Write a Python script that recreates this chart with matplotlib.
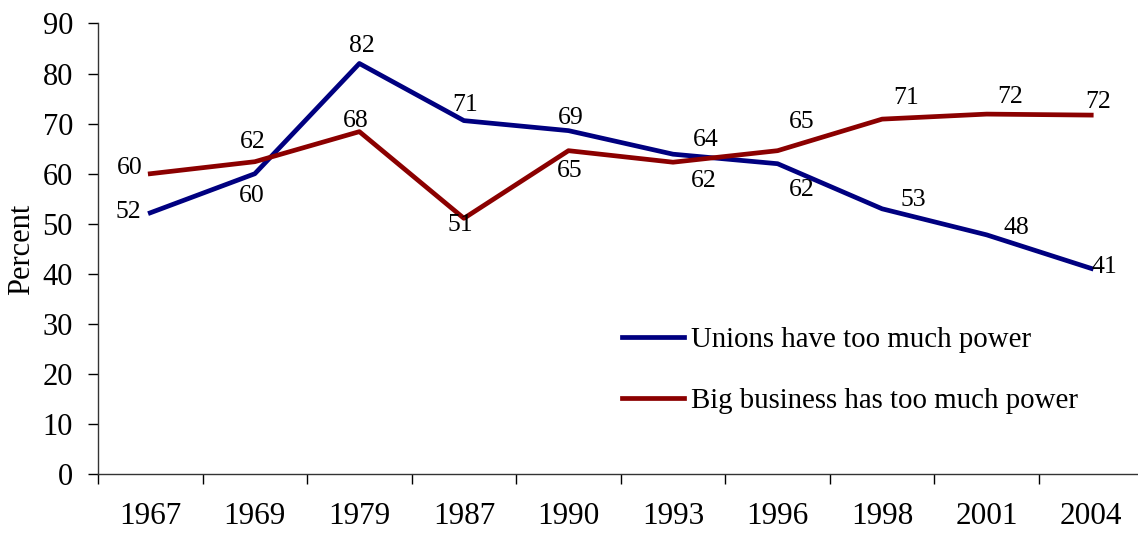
import matplotlib.pyplot as plt
import numpy as np

# Data
years = ['1967', '1969', '1979', '1987', '1990', '1993', '1996', '1998', '2001', '2004']
unions = [52.2, 60.0, 82.0, 70.6, 68.6, 63.9, 62.0, 53.0, 47.8, 41.1]
business = [60.0, 62.4, 68.4, 51.1, 64.6, 62.3, 64.6, 70.9, 71.9, 71.7]

# label offsets from the point, in pixels (dx, dy)
union_offsets = [(-22, 1), (-3, -22), (2, 17), (1, 16), (2, 13), (33, 14),
                 (24, -26), (31, 9), (30, 7), (13, 1)]
business_offsets = [(-21, 6), (-2, 20), (-4, 11), (-4, -7), (1, -20), (31, -19),
                    (24, 29), (24, 21), (23, 17), (7, 13)]

navy = '#000080'
darkred = '#8b0000'

plt.rcParams['font.family'] = ['Liberation Serif', 'DejaVu Serif']

fig = plt.figure(figsize=(11.38, 5.38), dpi=100)
W, H = 1138, 538
ax = fig.add_axes([98 / W, 1 - 474.4 / H, (1143.5 - 98) / W, (474.4 - 23.4) / H])

x = np.arange(len(years))
ax.plot(x, unions, color=navy, lw=3.4, solid_joinstyle='round',
        label='Unions have too much power')
ax.plot(x, business, color=darkred, lw=3.4, solid_joinstyle='round',
        label='Big business has too much power')

for xi, v, off in zip(x, unions, union_offsets):
    ax.annotate(f'{v:.0f}', (xi, v), xytext=off, textcoords='offset pixels',
                ha='center', va='center', fontsize=18.5)
for xi, v, off in zip(x, business, business_offsets):
    ax.annotate(f'{v:.0f}', (xi, v), xytext=off, textcoords='offset pixels',
                ha='center', va='center', fontsize=18.5)

ax.set_xlim(-0.5, len(years) - 0.5)
ax.set_ylim(0, 90)
ax.set_yticks(np.arange(0, 91, 10))
ax.tick_params(axis='y', direction='out', length=7, width=1, labelsize=22, pad=11)

# category labels centered, tick marks between categories
ax.set_xticks(x)
ax.set_xticklabels(years)
ax.set_xticks(np.arange(-0.5, len(years), 1), minor=True)
ax.tick_params(axis='x', which='major', length=0, labelsize=22.5, pad=20)
ax.tick_params(axis='x', which='minor', direction='out', length=7, width=1)

for s in ['top', 'right']:
    ax.spines[s].set_visible(False)
for s in ['left', 'bottom']:
    ax.spines[s].set_color('#333333')
    ax.spines[s].set_linewidth(1)

fig.text(22 / W, 1 - 249 / H, 'Percent', rotation=90, ha='center', va='center',
         fontsize=22)

ax.legend(loc='upper left', bbox_to_anchor=(622 / W, 1 - 327 / H),
          bbox_transform=fig.transFigure, frameon=False, fontsize=20.8,
          handlelength=2.15, handletextpad=0.25, labelspacing=1.2,
          borderaxespad=0, borderpad=0)

fig.savefig('out.png', dpi=100)
